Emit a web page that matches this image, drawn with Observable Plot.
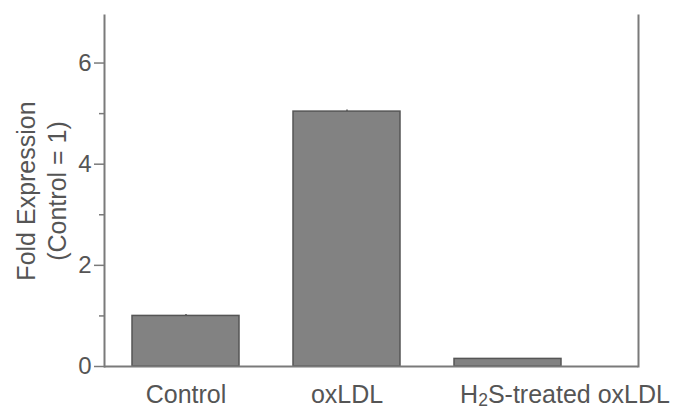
<!DOCTYPE html>
<html>
<head>
<meta charset="utf-8">
<script src="https://cdn.jsdelivr.net/npm/d3@7"></script>
<script src="https://cdn.jsdelivr.net/npm/@observablehq/plot@0.6"></script>
<style>
  html, body { margin: 0; padding: 0; background: #fff; }
  #chart { width: 675px; height: 412px; }
</style>
</head>
<body>
<div id="chart"></div>
<script>
const categories = ["Control", "oxLDL", "H2S-treated oxLDL"];
const values = [1.0, 5.04, 0.15];
const errors = [0.03, 0.03, 0.0];
const majorTicks = [0, 2, 4, 6];
const minorTicks = [1, 3, 5];
const yTitle = "Fold Expression\n(Control = 1)";

const data = categories.map((c, i) => ({category: c, value: values[i], err: errors[i]}));
const lastCat = categories[categories.length - 1];

const axisGray = "#7a7a7a";
const textGray = "#555555";

const chart = Plot.plot({
  width: 675,
  height: 412,
  marginLeft: 104,
  marginRight: 37,
  marginTop: 15,
  marginBottom: 46,
  style: {fontFamily: "'Liberation Sans', Arial, sans-serif", fontSize: "25px", color: textGray, background: "#fff"},
  x: {domain: categories, range: [131, 562], paddingInner: 0.335, paddingOuter: 0, label: null},
  y: {domain: [0, 6.94], label: null},
  marks: [
    Plot.barY(data, {x: "category", y: "value", fill: "#828282", stroke: "#555", strokeWidth: 1.5}),
    Plot.ruleX(data.filter(d => d.err > 0), {x: "category", y1: "value", y2: d => d.value + d.err, stroke: "#555", strokeWidth: 1.5}),
    Plot.ruleY([0], {stroke: axisGray, strokeWidth: 2}),
    Plot.frame({anchor: "left", stroke: axisGray, strokeWidth: 2}),
    Plot.frame({anchor: "right", stroke: axisGray, strokeWidth: 2}),
    Plot.axisY({ticks: majorTicks, tickSize: 10, tickPadding: 3, tickFormat: d3.format("d"), stroke: axisGray, strokeWidth: 1.5, label: null, fill: textGray, fontSize: 24}),
    Plot.axisY({ticks: minorTicks, tickSize: 5, tickFormat: () => "", stroke: axisGray, strokeWidth: 1.5, label: null}),
    Plot.axisX({tickSize: 0, tickPadding: 19, tickFormat: d => d === lastCat ? "" : d, label: null, fill: textGray, fontSize: 25}),
    Plot.text([lastCat], {x: d => d, frameAnchor: "bottom", lineAnchor: "top", dy: 19, dx: 57, text: d => d, fill: textGray, fontSize: 25}),
    Plot.text([yTitle], {frameAnchor: "left", textAnchor: "middle", lineAnchor: "middle", rotate: -90, dx: -64, lineHeight: 1.24, text: d => d, fill: textGray, fontSize: 25})
  ]
});

// subscript the 2 in H2S
chart.querySelectorAll("text").forEach(t => {
  if (t.textContent === "H2S-treated oxLDL") {
    t.textContent = "";
    const ns = "http://www.w3.org/2000/svg";
    const a = document.createElementNS(ns, "tspan"); a.textContent = "H";
    const b = document.createElementNS(ns, "tspan"); b.textContent = "2";
    b.setAttribute("baseline-shift", "-18%"); b.setAttribute("font-size", "70%");
    const c = document.createElementNS(ns, "tspan"); c.textContent = "S-treated oxLDL";
    t.append(a, b, c);
  }
});

document.getElementById("chart").appendChild(chart);
</script>
</body>
</html>
